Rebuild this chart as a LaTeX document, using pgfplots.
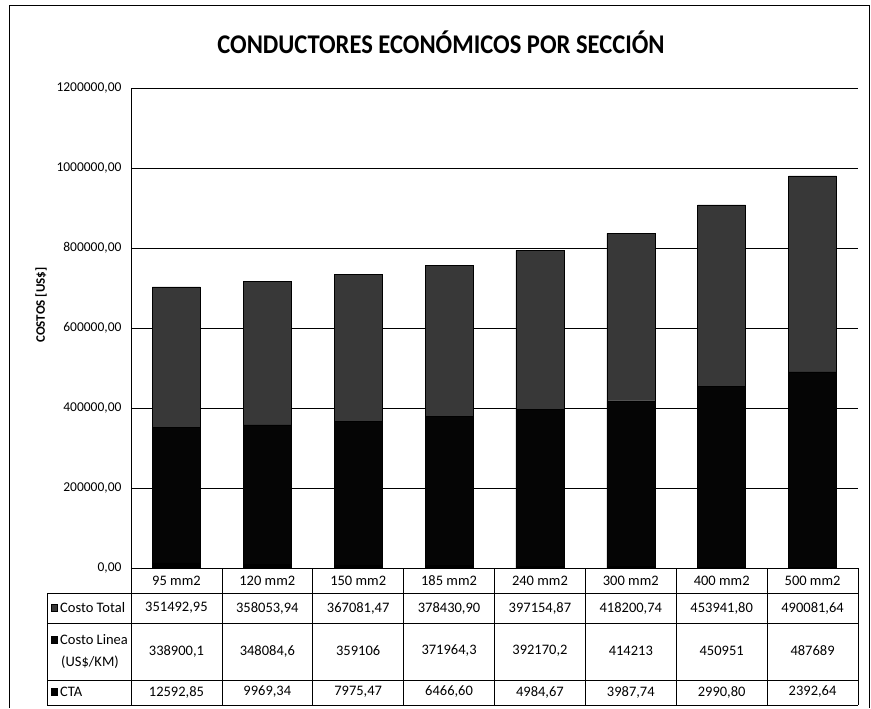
\documentclass[border=0pt]{standalone}
\usepackage{fontspec}
\setmainfont{Carlito}
\usepackage{pgfplots}
\pgfplotsset{compat=1.18}
\usepackage{pgfplotstable}

\pgfplotstableread{
x ct cl cta
0 351492.95 338900.1 12592.85
1 358053.94 348084.6 9969.34
2 367081.47 359106 7975.47
3 378430.90 371964.3 6466.60
4 397154.87 392170.2 4984.67
5 418200.74 414213 3987.74
6 453941.80 450951 2990.80
7 490081.64 487689 2392.64
}\data

\definecolor{cTot}{gray}{0.22}
\definecolor{cLin}{gray}{0.02}
\definecolor{cCta}{gray}{0.0}

\begin{document}
\begin{tikzpicture}[x=1pt,y=-1pt]
\useasboundingbox (0,0) rectangle (871,709);
\draw[line width=0.8pt] (9,708) -- (9,5) -- (869,5) -- (869,708);
\node[font=\bfseries\fontsize{27}{30}\selectfont, xscale=0.91] at (441,42) {CONDUCTORES ECONÓMICOS POR SECCIÓN};
\node[rotate=90, font=\bfseries\fontsize{13}{15}\selectfont] at (41,305) {COSTOS [US\$]};
\begin{axis}[at={(131pt,-568pt)}, anchor=south west, scale only axis,
  width=727pt, height=480pt,
  ybar stacked, bar width=48pt,
  xmin=-0.5, xmax=7.5, ymin=0, ymax=1200000,
  xtick=\empty,
  scaled y ticks=false,
  ytick={0,200000,400000,600000,800000,1000000,1200000},
  yticklabels={{0,00},{200000,00},{400000,00},{600000,00},{800000,00},{1000000,00},{1200000,00}},
  yticklabel style={font=\fontsize{13.5}{15}\selectfont, xshift=-6pt},
  /pgf/number format/assume math mode=true,
  major tick length=0pt,
  ymajorgrids, grid style={black, line width=0.7pt},
  axis lines*=left,
  axis line style={black, line width=0.7pt},
  clip=false,
]
\addplot[fill=cCta, draw=black] table[x=x, y=cta] {\data};
\addplot[fill=cLin, draw=black] table[x=x, y=cl] {\data};
\addplot[fill=cTot, draw=black] table[x=x, y=ct] {\data};
\end{axis}
% data table
\begin{scope}[line width=0.7pt]
\foreach \yy in {593,623,680,705} \draw (47,\yy) -- (858,\yy);
\draw (47,593) -- (47,705);
\foreach \k in {0,...,8} \draw ({131+90.875*\k},568) -- ({131+90.875*\k},705);
\end{scope}
\begin{scope}[font=\fontsize{14.5}{16}\selectfont]
\foreach \lab [count=\i from 0] in {95 mm2,120 mm2,150 mm2,185 mm2,240 mm2,300 mm2,400 mm2,500 mm2}
  \node at ({131+90.875*(\i+0.5)},581) {\lab};
\foreach \lab [count=\i from 0] in {{351492,95},{358053,94},{367081,47},{378430,90},{397154,87},{418200,74},{453941,80},{490081,64}}
  \node at ({131+90.875*(\i+0.5)},608) {\lab};
\foreach \lab [count=\i from 0] in {{338900,1},{348084,6},{359106},{371964,3},{392170,2},{414213},{450951},{487689}}
  \node at ({131+90.875*(\i+0.5)},651) {\lab};
\foreach \lab [count=\i from 0] in {{12592,85},{9969,34},{7975,47},{6466,60},{4984,67},{3987,74},{2990,80},{2392,64}}
  \node at ({131+90.875*(\i+0.5)},692) {\lab};
% legend column
\fill[cTot, draw=black] (51,604) rectangle (57,611);
\node[anchor=west, inner sep=0pt] at (60,608) {Costo Total};
\fill[cLin, draw=black] (51,636) rectangle (57,643);
\node[anchor=west, inner sep=0pt] at (60,640) {Costo Linea};
\node[inner sep=0pt] at (90,662) {(US\$/KM)};
\fill[cCta, draw=black] (51,688) rectangle (57,695);
\node[anchor=west, inner sep=0pt] at (60,692) {CTA};
\end{scope}
\end{tikzpicture}
\end{document}
